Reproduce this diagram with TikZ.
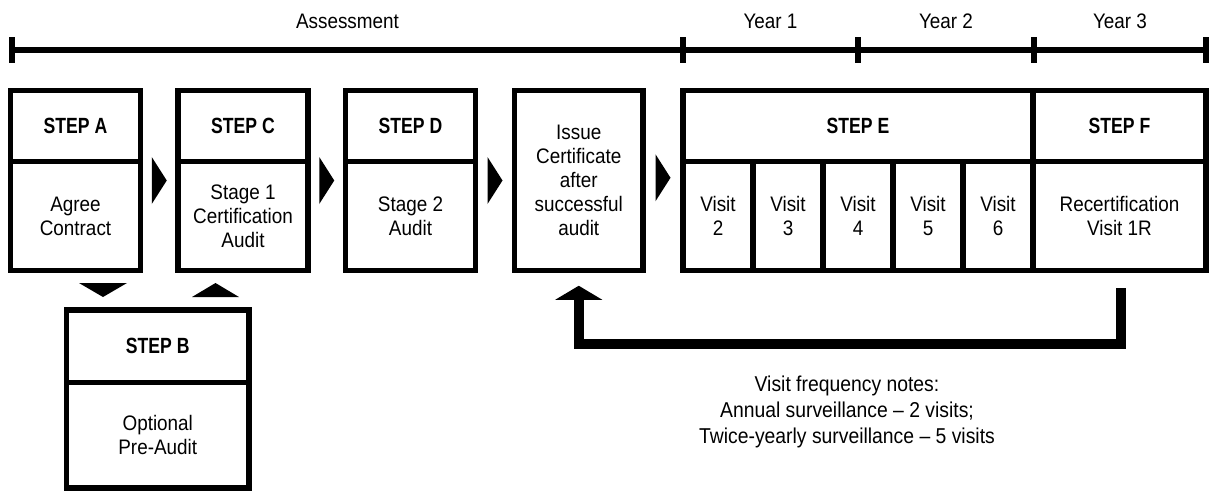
\documentclass[tikz,border=0pt]{standalone}
\usepackage{fontspec}
\setmainfont{Liberation Sans}[FakeStretch=0.9]
\newfontfamily\stepfont{Liberation Sans}[FakeStretch=0.8]
\usetikzlibrary{calc}

\begin{document}
\begin{tikzpicture}[x=1pt,y=-1pt,
  cell/.style={draw, line width=5.5pt, inner sep=0pt, align=center,
    font=\fontsize{21}{24}\selectfont},
  head/.style={cell, minimum height=71pt,
    font=\stepfont\bfseries\fontsize{22}{24}\selectfont},
  body/.style={cell, minimum height=109pt},
  tl/.style={line width=6pt},
  lbl/.style={anchor=base, inner sep=0pt, font=\fontsize{21}{24}\selectfont},
  ret/.style={line width=10pt, line join=miter},
]
\useasboundingbox (0,0) rectangle (1216,491);

% time line with its period marks
\coordinate (m0) at (12,50);
\coordinate (m1) at (683,50);
\coordinate (m2) at (858,50);
\coordinate (m3) at (1034,50);
\coordinate (m4) at (1206,50);
\draw[tl] (m0) -- (m4);
\foreach \m in {m0,m1,m2,m3,m4}
  \draw[tl] ($(\m)+(0,-13)$) -- ($(\m)+(0,13)$);
\node[lbl] (assess) at ($(m0)!0.5!(m1)+(0,-22)$) {Assessment};
\node[lbl] (yr1) at ($(m1)!0.5!(m2)+(0,-22)$) {Year 1};
\node[lbl] (yr2) at ($(m2)!0.5!(m3)+(0,-22)$) {Year 2};
\node[lbl] (yr3) at ($(m3)!0.5!(m4)+(0,-22)$) {Year 3};

% steps
\node[head, minimum width=130pt] (Ahead) at (75.5,126) {STEP A};
\node[body, minimum width=130pt] (Abody) at (75.5,216) {Agree\\Contract};

\node[head, minimum width=130pt] (Chead) at (243,126) {STEP C};
\node[body, minimum width=130pt] (Cbody) at (243,216) {Stage 1\\Certification\\Audit};

\node[head, minimum width=130pt] (Dhead) at (410.5,126) {STEP D};
\node[body, minimum width=130pt] (Dbody) at (410.5,216) {Stage 2\\Audit};

\node[cell, minimum width=128.5pt, minimum height=180pt] (Issue) at (578.75,180.5)
  {Issue\\Certificate\\after\\successful\\audit};

\node[head, minimum width=350pt] (Ehead) at (858,126) {STEP E};
\foreach \k in {0,...,4}{
  \pgfmathtruncatemacro\v{\k+2}
  \node[body, minimum width=70pt] (visit\v) at (718+70*\k,216) {Visit\\\v};
}

\node[head, minimum width=173pt] (Fhead) at (1119.5,126) {STEP F};
\node[body, minimum width=173pt] (Fbody) at (1119.5,216) {Recertification\\Visit 1R};

\node[head, minimum width=182.5pt, minimum height=72.5pt] (Bhead) at (157.75,346.25) {STEP B};
\node[body, minimum width=182.5pt, minimum height=105.5pt] (Bbody) at (157.75,435.25) {Optional\\Pre-Audit};

% flow marks between the steps
\coordinate (r1) at ($(Ahead.north east)!0.5!(Cbody.south west)$);
\coordinate (r2) at ($(Chead.north east)!0.5!(Dbody.south west)$);
\coordinate (r3) at ($(Dhead.north east)!0.5!(Issue.south west)$);
\coordinate (r4) at ($(Issue.north east)!0.5!(Ehead.north west)+(0,90)$);
\foreach \i in {1,2,3,4}
  \fill ($(r\i)+(-7.5,-23.5)$) -- ($(r\i)+(7.5,0)$) -- ($(r\i)+(-7.5,23.5)$) -- cycle;

% to and from the optional step
\coordinate (dn) at (103,290);
\coordinate (up) at (215.5,290);
\fill ($(dn)+(-24,-7)$) -- ($(dn)+(24,-7)$) -- ($(dn)+(0,7)$) -- cycle;
\fill ($(up)+(-23.5,7)$) -- ($(up)+(23.5,7)$) -- ($(up)+(0,-7)$) -- cycle;

% return path from recertification to certificate issue
\coordinate (rs) at (1121,288);
\coordinate (rb) at ($(Issue.south)+(0,70.5)$);
\coordinate (rt) at ($(Issue.south)+(0,26.5)$);
\draw[ret] (rs) |- (rb) -- (rt);
\fill ($(rt)+(-23.5,0)$) -- ($(rt)+(23.5,0)$) -- ($(Issue.south)+(0,12.5)$) -- cycle;

\node[align=center, inner sep=0pt, font=\fontsize{21.5}{26}\selectfont] (notes) at (847,412)
  {Visit frequency notes:\\Annual surveillance -- 2 visits;\\Twice-yearly surveillance -- 5 visits};
\end{tikzpicture}
\end{document}
